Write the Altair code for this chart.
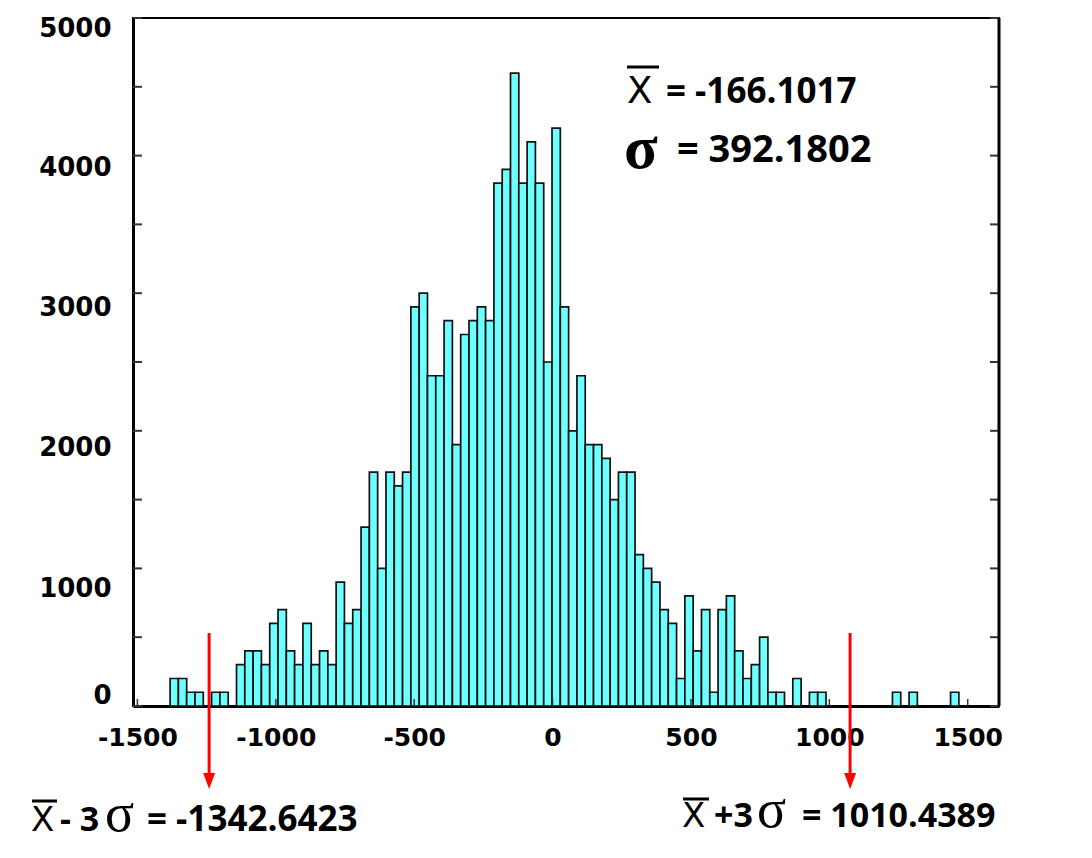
import altair as alt
import pandas as pd

# ---- data ----
bin_first_edge = -1382
bin_width = 30
counts = [200, 200, 100, 100, 0, 100, 100, 0, 300, 400,
          400, 300, 600, 700, 400, 300, 600, 300, 400, 300,
          900, 600, 700, 1300, 1700, 1000, 1700, 1600, 1700, 2900,
          3000, 2400, 2400, 2800, 1900, 2700, 2800, 2900, 2800, 3800,
          3900, 4600, 3800, 4100, 3800, 2500, 4200, 2900, 2000, 2400,
          1900, 1900, 1800, 1500, 1700, 1700, 1100, 1000, 900, 700,
          600, 200, 800, 400, 700, 100, 700, 800, 400, 200,
          300, 500, 100, 100, 0, 200, 0, 100, 100, 0,
          0, 0, 0, 0, 0, 0, 0, 100, 0, 100,
          0, 0, 0, 0, 100]
x_ticks = [-1500, -1000, -500, 0, 500, 1000, 1500]
y_labels = [0, 1000, 2000, 3000, 4000, 5000]
y_ticks = [0, 500, 1000, 1500, 2000, 2500, 3000, 3500, 4000, 4500, 5000]
arrow_x = [-1241, 1075]
mean_text = "= -166.1017"
sigma_text = "= 392.1802"
low_text = "= -1342.6423"
high_text = "= 1010.4389"

W, H = 866, 688
XDOM = [-1516, 1613]
YDOM = [0, 5000]

starts = [bin_first_edge + bin_width * i for i in range(len(counts))]
bars_df = pd.DataFrame({"start": starts,
                        "end": [s + bin_width for s in starts],
                        "count": counts})
bars_df = bars_df[bars_df["count"] > 0]

xs = alt.Scale(domain=XDOM, nice=False, zero=False)
ys = alt.Scale(domain=YDOM, nice=False)

label_font = "DejaVu Sans"
ann_font = "Open Sans"

y_offset_cond = {
    "condition": [
        {"test": "datum.value == 0", "value": -11},
        {"test": "datum.value == 1000", "value": 20},
        {"test": "datum.value == 2000", "value": 17},
        {"test": "datum.value == 3000", "value": 14},
        {"test": "datum.value == 4000", "value": 12},
    ],
    "value": 10,
}

bars = alt.Chart(bars_df).mark_bar(
    fill="#6effff", stroke="#111111", strokeWidth=1.7, opacity=1
).encode(
    x=alt.X("start:Q", scale=xs,
            axis=alt.Axis(values=x_ticks, title=None, grid=False, ticks=False, tickSize=0,
                          labelExpr="'' + datum.value",
                          labelFont=label_font, labelFontWeight="bold", labelFontSize=25,
                          labelColor="black", labelPadding=19, labelFlush=False,
                          domainColor="black", domainWidth=3)),
    x2="end:Q",
    y=alt.Y("count:Q", scale=ys,
            axis=alt.Axis(values=y_labels, title=None, grid=False, ticks=False, tickSize=0,
                          labelExpr="'' + datum.value",
                          labelFont=label_font, labelFontWeight="bold", labelFontSize=26,
                          labelColor="black", labelPadding=22, labelFlush=False,
                          labelBaseline="middle", labelOffset=y_offset_cond,
                          domainColor="black", domainWidth=3)),
    y2=alt.datum(0),
)

yt_df = pd.DataFrame({"v": y_ticks})
xt_df = pd.DataFrame({"v": x_ticks})

left_ticks = alt.Chart(yt_df).mark_rule(color="#333", strokeWidth=2).encode(
    y=alt.Y("v:Q", scale=ys), x=alt.value(0), x2=alt.value(9))
right_ticks = alt.Chart(yt_df).mark_rule(color="#333", strokeWidth=2).encode(
    y=alt.Y("v:Q", scale=ys), x=alt.value(W - 9), x2=alt.value(W))
bottom_ticks = alt.Chart(xt_df).mark_rule(color="#333", strokeWidth=1.5).encode(
    x=alt.X("v:Q", scale=xs), y=alt.value(H - 7), y2=alt.value(H))
right_border = alt.Chart(pd.DataFrame({"v": [0]})).mark_rule(color="black", strokeWidth=3).encode(
    x=alt.value(W), y=alt.value(0), y2=alt.value(H))

arr_df = pd.DataFrame({"v": arrow_x})
arrow_lines = alt.Chart(arr_df).mark_rule(color="#ff0000", strokeWidth=3).encode(
    x=alt.X("v:Q", scale=xs), y=alt.value(615), y2=alt.value(757))
arrow_heads = alt.Chart(arr_df).mark_point(
    shape="M -0.75 -1 L 0.75 -1 L 0 1 Z", filled=True, color="#ff0000", opacity=1, size=256
).encode(x=alt.X("v:Q", scale=xs), y=alt.value(763))


def txt(s, x, y, font, size, weight="bold"):
    return alt.Chart(pd.DataFrame({"t": [s]})).mark_text(
        align="left", baseline="alphabetic", font=font, fontSize=size,
        fontWeight=weight, color="black"
    ).encode(text="t:N", x=alt.value(x), y=alt.value(y))


def bar_over(x1, x2, y):
    return alt.Chart(pd.DataFrame({"v": [0]})).mark_rule(color="black", strokeWidth=3).encode(
        x=alt.value(x1), x2=alt.value(x2), y=alt.value(y))


annotations = [
    # top right statistics
    txt("X", 494, 85, "DejaVu Sans", 37, "normal"),
    bar_over(494, 526, 49),
    txt(mean_text, 533, 85, ann_font, 35),
    txt("σ", 491, 150, "Liberation Serif", 62, "bold"),
    txt(sigma_text, 544, 144, ann_font, 38),
    # bottom left
    txt("X", -102, 813, "DejaVu Sans", 34, "normal"),
    bar_over(-101, -76, 783),
    txt("- 3", -73, 813, ann_font, 34),
    txt("σ", -28, 813, "Liberation Serif", 54, "normal"),
    txt(low_text, 14, 813, ann_font, 35),
    # bottom right
    txt("X", 549, 809, "DejaVu Sans", 34, "normal"),
    bar_over(550, 576, 781),
    txt("+3", 581, 809, ann_font, 34),
    txt("σ", 624, 809, "Liberation Serif", 54, "normal"),
    txt(high_text, 669, 809, ann_font, 34),
]

chart = alt.layer(
    bars, left_ticks, right_ticks, bottom_ticks, right_border,
    arrow_lines, arrow_heads, *annotations
).properties(
    width=W, height=H,
    autosize=alt.AutoSizeParams(type="none"),
    padding={"left": 125, "top": 10, "right": 80, "bottom": 140},
    background="white",
).configure_view(stroke="black", strokeWidth=2)

chart.save("out.html", embed_options={"renderer": "svg", "actions": False})
